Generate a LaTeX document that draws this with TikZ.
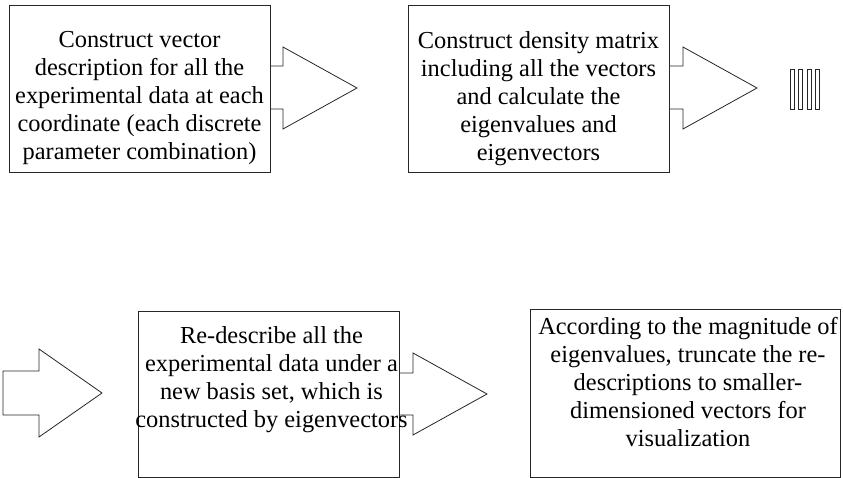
\documentclass[tikz,border=0pt]{standalone}
\usepackage{fontspec}
\setmainfont{Liberation Serif}
\begin{document}
\begin{tikzpicture}[x=1pt,y=-1pt,line width=0.8pt,
  boxnode/.style={draw=black!85,fill=white,rectangle,inner sep=0pt},
  blockarrow/.style={draw=black!85,fill=white,line join=miter},
  bar/.style={draw=black!85,fill=white},
  txt/.style={inner sep=0pt,anchor=base,font=\rmfamily\fontsize{24.4}{27.8}\selectfont}]
\useasboundingbox (0,0) rectangle (844,478);
% arrows behind boxes
\draw[blockarrow] (260,66) -- (283,66) -- (283,47) -- (357,88) -- (283,129) -- (283,109) -- (260,109) -- cycle;
\draw[blockarrow] (660,66) -- (683,66) -- (683,47) -- (757,88) -- (683,129) -- (683,109) -- (660,109) -- cycle;
\draw[blockarrow] (3,371) -- (39,371) -- (39,349) -- (102,393) -- (39,437) -- (39,415) -- (3,415) -- cycle;
\draw[blockarrow] (390,373) -- (413,373) -- (413,353) -- (487,394) -- (413,435) -- (413,415) -- (390,415) -- cycle;
% boxes
\node[boxnode,minimum width=261pt,minimum height=167pt] (b1) at (139.5,88.5) {};
\node[boxnode,minimum width=261pt,minimum height=167pt] (b2) at (538.5,88.5) {};
\node[boxnode,minimum width=261pt,minimum height=166pt] (b3) at (268.5,394) {};
\node[boxnode,minimum width=310pt,minimum height=168pt] (b4) at (685,393) {};
% bars
\foreach \bx in {790,798.5,807,815.5}{
  \draw[bar] (\bx,69) rectangle ++(4.3,40);
}
% texts
\node[txt] (t1) at (139.5,48) {\parbox[t]{320pt}{\centering Construct vector\\ description for all the\\ experimental data at each\\ coordinate (each discrete\\ parameter combination)}};
\node[txt] (t2) at (538.5,49) {\parbox[t]{320pt}{\centering Construct density matrix\\ including all the vectors\\ and calculate the\\ eigenvalues and\\ eigenvectors}};
\node[txt] (t3) at (271.5,344) {\parbox[t]{320pt}{\centering Re-describe all the\\ experimental data under a\\ new basis set, which is\\ constructed by eigenvectors}};
\node[txt] (t4) at (688,335) {\parbox[t]{340pt}{\centering According to the magnitude of\\ eigenvalues, truncate the re-\\ descriptions to smaller-\\ dimensioned vectors for\\ visualization}};
\end{tikzpicture}
\end{document}
